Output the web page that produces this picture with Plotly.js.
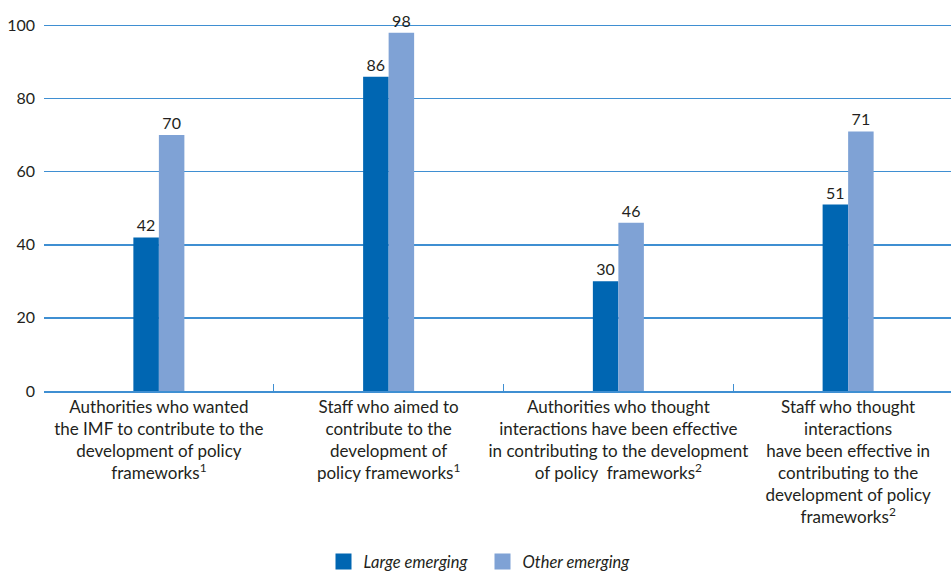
<!DOCTYPE html>
<html>
<head>
<meta charset="utf-8">
<script src="https://cdn.plot.ly/plotly-3.0.1.min.js"></script>
<style>
  html, body { margin: 0; padding: 0; overflow: hidden; background: #fff; }
  #chart { width: 965px; height: 572px; }
</style>
</head>
<body>
<div id="chart"></div>
<script>
// Survey responses on the IMF's contribution to policy frameworks (percent)
const categories = [
  "Authorities who wanted<br>the IMF to contribute to the<br>development of policy<br>frameworks<sup>1</sup>",
  "Staff who aimed to<br>contribute to the<br>development of<br>policy frameworks<sup>1</sup>",
  "Authorities who thought<br>interactions have been effective<br>in contributing to the development<br>of policy  frameworks<sup>2</sup>",
  "Staff who thought<br>interactions<br>have been effective in<br>contributing to the<br>development of policy<br>frameworks<sup>2</sup>"
];
const seriesNames = ["Large emerging", "Other emerging"];
const largeEmerging = [42, 86, 30, 51];
const otherEmerging = [70, 98, 46, 71];
const yTicks = [0, 20, 40, 60, 80, 100];

const colors = ["#0066b2", "#7fa2d5"];
const textColor = "#231f20";
const gridBlue = "#3f8fd2";
const fontFamily = "Lato, sans-serif";

function barTrace(name, values, color) {
  return {
    type: "bar",
    name: name,
    x: categories,
    y: values,
    text: values.map(String),
    textposition: "outside",
    cliponaxis: false,
    textfont: { family: fontFamily, size: 16, color: textColor },
    marker: { color: color },
    showlegend: false,
    hoverinfo: "skip"
  };
}

// Legend entries with larger square swatches
function legendTrace(name, color) {
  return {
    type: "scatter",
    mode: "markers",
    name: name,
    x: [categories[0]],
    y: [null],
    marker: { symbol: "square", size: 16, color: color },
    showlegend: true,
    hoverinfo: "skip"
  };
}

const traces = [
  barTrace(seriesNames[0], largeEmerging, colors[0]),
  barTrace(seriesNames[1], otherEmerging, colors[1]),
  legendTrace(seriesNames[0], colors[0]),
  legendTrace(seriesNames[1], colors[1])
];

const layout = {
  width: 965,
  height: 572,
  margin: { l: 44, r: 2, t: 24, b: 181 },
  paper_bgcolor: "#ffffff",
  plot_bgcolor: "#ffffff",
  font: { family: fontFamily, size: 16, color: textColor },
  barmode: "group",
  bargap: 0.778,
  bargroupgap: 0,
  showlegend: true,
  legend: {
    orientation: "h",
    xref: "container",
    yref: "container",
    x: 0.5,
    xanchor: "center",
    y: 0.018,
    yanchor: "middle",
    font: { family: fontFamily, size: 16.5, color: textColor, style: "italic" },
    itemsizing: "trace",
    itemwidth: 30,
    entrywidth: 114,
    entrywidthmode: "pixels",
    traceorder: "normal"
  },
  xaxis: {
    type: "category",
    showgrid: false,
    showline: true,
    linecolor: gridBlue,
    linewidth: 1.5,
    ticks: "inside",
    tickson: "boundaries",
    ticklen: 7,
    tickcolor: gridBlue,
    tickwidth: 1,
    tickfont: { family: fontFamily, size: 17, color: textColor },
    tickangle: 0,
    automargin: false,
    fixedrange: true
  },
  yaxis: {
    range: [0, 100.4],
    tickvals: yTicks,
    ticktext: yTicks.map(String),
    showgrid: true,
    gridcolor: gridBlue,
    gridwidth: 1.5,
    zeroline: false,
    showline: false,
    ticks: "",
    ticklabelstandoff: 8,
    tickfont: { family: fontFamily, size: 16, color: textColor },
    automargin: false,
    fixedrange: true
  }
};

Plotly.newPlot("chart", traces, layout, { displayModeBar: false, staticPlot: true });
</script>
</body>
</html>
